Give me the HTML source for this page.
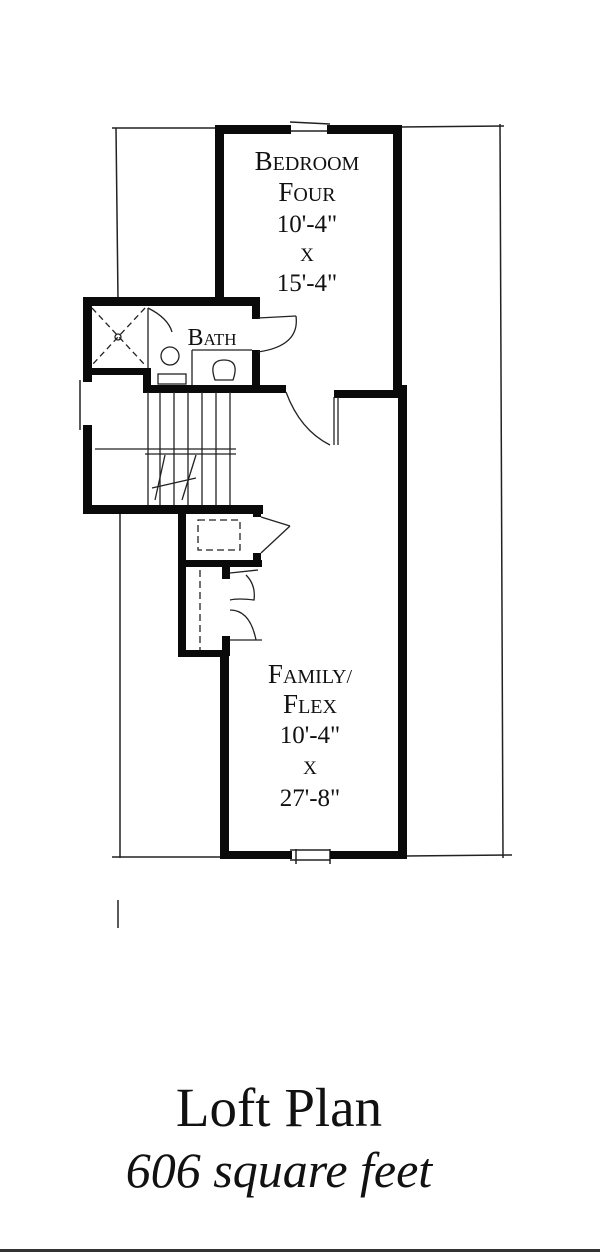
<!DOCTYPE html>
<html><head><style>
html,body{margin:0;padding:0;background:#fff;}
body{width:600px;height:1252px;position:relative;overflow:hidden;}
svg{position:absolute;left:0;top:0;}
text{font-family:"Liberation Serif",serif;fill:#111;}
</style></head><body>
<svg width="600" height="1252" viewBox="0 0 600 1252">
<g stroke="#222" stroke-width="1.5" fill="none">
 <line x1="112" y1="128" x2="218" y2="128"/>
 <line x1="400" y1="127" x2="504" y2="126"/>
 <line x1="116" y1="128" x2="118" y2="300"/>
 <line x1="500" y1="124" x2="503" y2="858"/>
 <line x1="120" y1="508" x2="120" y2="858"/>
 <line x1="112" y1="857" x2="222" y2="857"/>
 <line x1="405" y1="856" x2="512" y2="855"/>
 <line x1="118" y1="900" x2="118" y2="928"/>
 <line x1="80" y1="380" x2="80" y2="430"/>
 <line x1="290" y1="122" x2="330" y2="124"/>
 <line x1="288" y1="131" x2="330" y2="131"/>
 <line x1="290" y1="850" x2="330" y2="850"/>
 <line x1="290" y1="860" x2="330" y2="860"/>
 <line x1="296" y1="849" x2="296" y2="864"/>
 <line x1="330" y1="849" x2="330" y2="864"/>
</g>
<g fill="#0a0a0a">
 <rect x="215" y="125" width="76" height="9"/>
 <rect x="327" y="125" width="75" height="9"/>
 <rect x="215" y="125" width="9" height="176"/>
 <rect x="393" y="125" width="9" height="266"/>
 <rect x="398" y="385" width="9" height="472"/>
 <rect x="83" y="297" width="177" height="9"/>
 <rect x="252" y="297" width="8" height="22"/>
 <rect x="252" y="350" width="8" height="40"/>
 <rect x="83" y="297" width="9" height="85"/>
 <rect x="83" y="425" width="9" height="88"/>
 <rect x="83" y="368" width="65" height="7"/>
 <rect x="143" y="368" width="8" height="24"/>
 <rect x="143" y="385" width="143" height="8"/>
 <rect x="334" y="390" width="66" height="8"/>
 <rect x="83" y="505" width="180" height="9"/>
 <rect x="178" y="505" width="8" height="152"/>
 <rect x="182" y="560" width="80" height="7"/>
 <rect x="253" y="505" width="8" height="12"/>
 <rect x="253" y="553" width="8" height="14"/>
 <rect x="222" y="567" width="8" height="12"/>
 <rect x="222" y="636" width="8" height="20"/>
 <rect x="178" y="650" width="50" height="7"/>
 <rect x="220" y="650" width="9" height="207"/>
 <rect x="220" y="851" width="72" height="8"/>
 <rect x="330" y="851" width="77" height="8"/>
</g>
<g stroke="#222" stroke-width="1.3" fill="none">
 <line x1="92" y1="308" x2="145" y2="365" stroke-dasharray="6,4"/>
 <line x1="145" y1="308" x2="92" y2="365" stroke-dasharray="6,4"/>
 <circle cx="118" cy="337" r="3"/>
 <line x1="148" y1="308" x2="148" y2="368"/>
 <path d="M148 308 Q168 318 172 332"/>
 <circle cx="170" cy="356" r="9"/>
 <rect x="158" y="374" width="28" height="10"/>
 <line x1="192" y1="350" x2="252" y2="350"/>
 <line x1="192" y1="350" x2="192" y2="385"/>
 <path d="M215 380 Q208 360 224 360 Q240 360 233 380 Z"/>
 <line x1="258" y1="318" x2="296" y2="316"/>
 <path d="M296 316 Q300 346 258 352"/>
 <g>
 <line x1="148" y1="392" x2="148" y2="505"/>
 <line x1="160" y1="392" x2="160" y2="505"/>
 <line x1="174" y1="392" x2="174" y2="505"/>
 <line x1="188" y1="392" x2="188" y2="505"/>
 <line x1="202" y1="392" x2="202" y2="505"/>
 <line x1="216" y1="392" x2="216" y2="505"/>
 <line x1="230" y1="392" x2="230" y2="505"/>
 <line x1="95" y1="449" x2="236" y2="449"/>
 <line x1="145" y1="454" x2="236" y2="454"/>
 <line x1="165" y1="455" x2="155" y2="500"/>
 <line x1="196" y1="455" x2="182" y2="500"/>
 <line x1="152" y1="488" x2="196" y2="478"/>
 </g>
 <path d="M286 392 Q300 430 330 445"/>
 <line x1="334" y1="397" x2="334" y2="445"/>
 <line x1="338" y1="397" x2="338" y2="445"/>
 <rect x="198" y="520" width="42" height="30" stroke-dasharray="7,4"/>
 <line x1="261" y1="517" x2="290" y2="526"/>
 <line x1="290" y1="526" x2="261" y2="553"/>
 <line x1="200" y1="570" x2="200" y2="650" stroke-dasharray="7,4"/>
 <line x1="230" y1="573" x2="258" y2="570"/>
 <path d="M246 575 Q256 585 254 600 Q238 598 230 600"/>
 <path d="M230 610 Q250 610 256 640"/>
 <line x1="230" y1="640" x2="262" y2="640"/>
</g>
<g text-anchor="middle">
 <text x="307" y="170" font-size="27">B<tspan font-size="20">EDROOM</tspan></text>
 <text x="307" y="201" font-size="27">F<tspan font-size="20">OUR</tspan></text>
 <text x="307" y="232" font-size="25">10'-4"</text>
 <text x="307" y="261" font-size="19">X</text>
 <text x="307" y="291" font-size="25">15'-4"</text>
 <text x="212" y="345" font-size="24">B<tspan font-size="17">ATH</tspan></text>
 <text x="310" y="683" font-size="27">F<tspan font-size="20">AMILY/</tspan></text>
 <text x="310" y="713" font-size="27">F<tspan font-size="20">LEX</tspan></text>
 <text x="310" y="743" font-size="25">10'-4"</text>
 <text x="310" y="774" font-size="19">X</text>
 <text x="310" y="806" font-size="25">27'-8"</text>
 <text x="279" y="1126" font-size="55">Loft Plan</text>
 <text x="279" y="1187" font-size="50" font-style="italic">606 square feet</text>
</g>
<rect x="0" y="1249" width="600" height="3" fill="#333"/>
</svg>
</body></html>
